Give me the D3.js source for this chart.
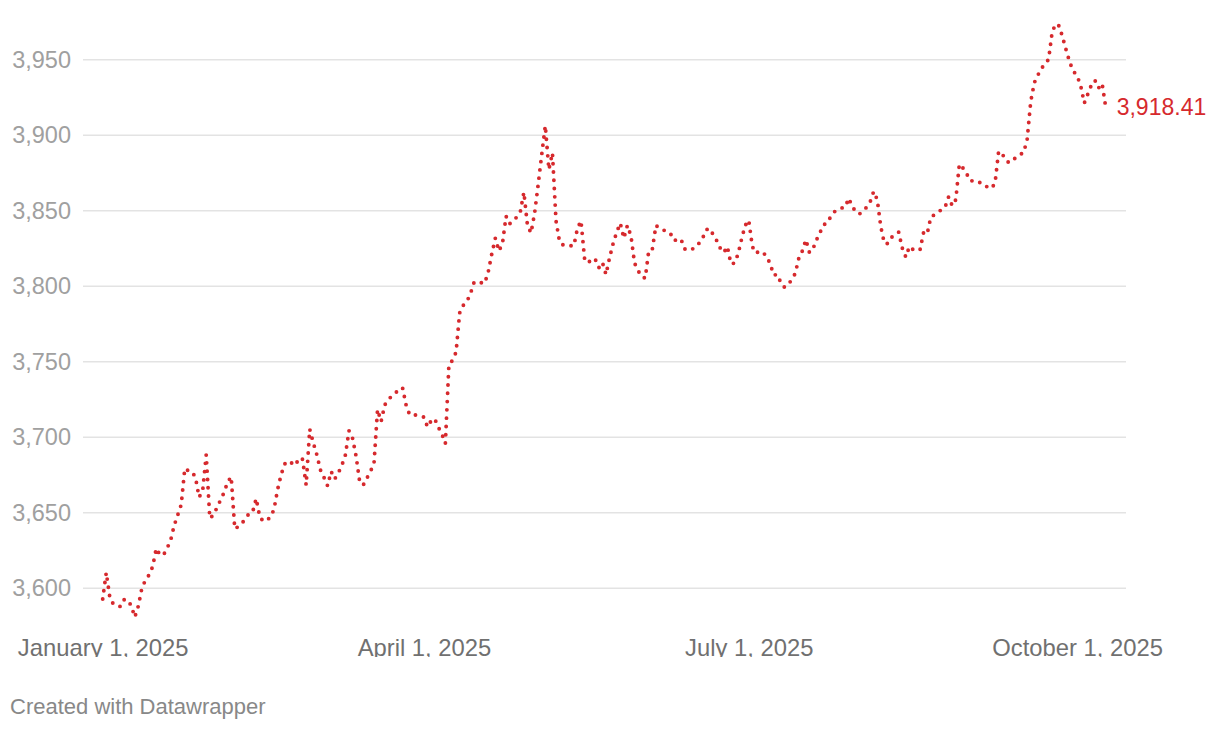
<!DOCTYPE html>
<html>
<head>
<meta charset="utf-8">
<script src="https://cdn.jsdelivr.net/npm/d3@7"></script>
<style>
  html, body { margin: 0; padding: 0; background: #fff; }
  svg { display: block; font-family: "Liberation Sans", Arial, Helvetica, sans-serif; }
</style>
</head>
<body>
<svg id="chart" width="1220" height="730"></svg>
<script>
// ---- Data ----
const dates = [
  // January
  "2025-01-01","2025-01-02","2025-01-03","2025-01-04","2025-01-06","2025-01-07","2025-01-08","2025-01-09","2025-01-10",
  "2025-01-11","2025-01-12","2025-01-13","2025-01-14","2025-01-15","2025-01-16","2025-01-17","2025-01-18","2025-01-19","2025-01-20",
  "2025-01-21","2025-01-22","2025-01-23","2025-01-24","2025-01-25","2025-01-26","2025-01-27","2025-01-28","2025-01-29","2025-01-30","2025-01-31",
  // February
  "2025-02-01","2025-02-02","2025-02-03","2025-02-04","2025-02-05","2025-02-06","2025-02-07","2025-02-08","2025-02-09","2025-02-10",
  "2025-02-11","2025-02-12","2025-02-13","2025-02-14","2025-02-15","2025-02-16","2025-02-17","2025-02-18","2025-02-19","2025-02-20",
  "2025-02-21","2025-02-22","2025-02-23","2025-02-24","2025-02-25","2025-02-26","2025-02-27","2025-02-28",
  // March
  "2025-03-01","2025-03-02","2025-03-03","2025-03-04","2025-03-05","2025-03-06","2025-03-07","2025-03-08","2025-03-09","2025-03-10",
  "2025-03-11","2025-03-12","2025-03-13","2025-03-14","2025-03-15","2025-03-16","2025-03-17","2025-03-18","2025-03-19","2025-03-20",
  "2025-03-21","2025-03-22","2025-03-23","2025-03-24","2025-03-25","2025-03-26","2025-03-27","2025-03-28","2025-03-29","2025-03-30","2025-03-31",
  // April
  "2025-04-01","2025-04-02","2025-04-03","2025-04-04","2025-04-05","2025-04-06","2025-04-07","2025-04-08","2025-04-09","2025-04-10",
  "2025-04-11","2025-04-12","2025-04-13","2025-04-14","2025-04-15","2025-04-16","2025-04-17","2025-04-18","2025-04-19","2025-04-20",
  "2025-04-21","2025-04-22","2025-04-23","2025-04-24","2025-04-25","2025-04-26","2025-04-27","2025-04-28","2025-04-29","2025-04-30",
  // May
  "2025-05-01","2025-05-02","2025-05-03","2025-05-04","2025-05-05","2025-05-06","2025-05-07","2025-05-08","2025-05-09","2025-05-10",
  "2025-05-11","2025-05-12","2025-05-13","2025-05-14","2025-05-15","2025-05-16","2025-05-17","2025-05-18","2025-05-19","2025-05-20",
  "2025-05-21","2025-05-22","2025-05-23","2025-05-24","2025-05-25","2025-05-26","2025-05-27","2025-05-28","2025-05-29","2025-05-30","2025-05-31",
  // June
  "2025-06-01","2025-06-02","2025-06-03","2025-06-04","2025-06-05","2025-06-06","2025-06-07","2025-06-08","2025-06-09","2025-06-10",
  "2025-06-11","2025-06-12","2025-06-13","2025-06-14","2025-06-15","2025-06-16","2025-06-17","2025-06-18","2025-06-19","2025-06-20",
  "2025-06-21","2025-06-22","2025-06-23","2025-06-24","2025-06-25","2025-06-26","2025-06-27","2025-06-28","2025-06-29","2025-06-30",
  // July
  "2025-07-01","2025-07-02","2025-07-03","2025-07-04","2025-07-05","2025-07-06","2025-07-07","2025-07-08","2025-07-09","2025-07-10",
  "2025-07-11","2025-07-12","2025-07-13","2025-07-14","2025-07-15","2025-07-16","2025-07-17","2025-07-18","2025-07-19","2025-07-20",
  "2025-07-21","2025-07-22","2025-07-23","2025-07-24","2025-07-25","2025-07-26","2025-07-27","2025-07-28","2025-07-29","2025-07-30","2025-07-31",
  // August
  "2025-08-01","2025-08-02","2025-08-03","2025-08-04","2025-08-05","2025-08-06","2025-08-07","2025-08-08","2025-08-09","2025-08-10",
  "2025-08-11","2025-08-12","2025-08-13","2025-08-14","2025-08-15","2025-08-16","2025-08-17","2025-08-18","2025-08-19","2025-08-20",
  "2025-08-21","2025-08-22","2025-08-23","2025-08-24","2025-08-25","2025-08-26","2025-08-27","2025-08-28","2025-08-29","2025-08-30","2025-08-31",
  // September
  "2025-09-01","2025-09-02","2025-09-03","2025-09-04","2025-09-05","2025-09-06","2025-09-07","2025-09-08","2025-09-09","2025-09-10",
  "2025-09-11","2025-09-12","2025-09-13","2025-09-14","2025-09-15","2025-09-16","2025-09-17","2025-09-18","2025-09-19","2025-09-20",
  "2025-09-21","2025-09-22","2025-09-23","2025-09-24","2025-09-25","2025-09-26","2025-09-27","2025-09-28","2025-09-29","2025-09-30",
  // October
  "2025-10-01","2025-10-02","2025-10-03","2025-10-04","2025-10-05","2025-10-06","2025-10-07","2025-10-08","2025-10-09"
];

const values = [
  // January
  3592.5,3610,3593.5,3589,3587.5,3592,3592,3588,3580.5,
  3588,3600,3605,3608.5,3614,3626,3622,3621.5,3626,3631,
  3641,3648,3655,3679,3677.5,3677,3673,3660,3664,3688,3646,
  // February
  3648,3653,3658,3663,3670,3673.5,3639,3640.5,3642.5,3646,
  3649,3650,3659,3647,3644,3645,3646.5,3652,3665,3675,
  3682,3684,3682.5,3681,3686,3685,3668,3705,
  // March
  3696,3688,3678,3673,3667.5,3677,3672,3676,3681,3688,
  3704,3699,3687,3670,3668,3672.5,3677,3682,3718,3710,
  3721,3724.5,3727,3729,3731,3732.5,3721,3714.5,3714.5,3714.3,3713.5,
  // April
  3713,3706.5,3710.5,3712,3706.5,3702,3695.5,3748,3750.5,3756,
  3782,3787,3789.5,3794.5,3802,3803,3802,3801.5,3809,3821,
  3831.5,3823,3828,3846,3841,3843,3845.5,3849,3862,3840,
  // May
  3835,3848,3867,3887,3906,3877,3888,3843,3829,3827,
  3826.5,3826.5,3826.5,3838,3843,3818,3815,3818,3817.5,3812,
  3815.5,3807.5,3818.5,3828,3835.5,3841.5,3831.5,3840,3833,3815,3810,
  // June
  3806,3805,3823.5,3824.5,3840,3838,3837,3836,3835,3830,
  3830.5,3831,3824.5,3823.5,3824,3825.5,3828,3831,3837,3838,
  3834,3830,3825,3822,3826,3814.5,3815,3821,3831,3840,
  // July
  3843.5,3826,3821.5,3823,3822,3819.5,3814.5,3807,3807.5,3802,
  3799,3800.5,3804,3808,3818,3823,3830.5,3822,3824.5,3830.5,
  3835.5,3840.5,3841.5,3846,3849,3850.5,3851.5,3852,3858,3852.5,3849,
  // August
  3847.5,3849.5,3852,3855.5,3862.5,3857,3839,3828,3828,3832,
  3834,3835.5,3825,3819,3826,3824,3823,3824,3835.5,3834.5,
  3845.5,3847,3848.5,3850.5,3852,3859,3853,3857,3880.5,3878,3874.5,
  // September
  3869.5,3869.5,3869.5,3868,3866,3865.5,3864.5,3868,3889,3887.5,
  3883,3881.5,3883,3885.5,3887,3888,3897,3922,3934.5,3939.5,
  3944,3947,3950,3968,3973.5,3972,3964,3955.5,3947.5,3942,
  // October
  3939,3932.5,3921,3927,3933,3936,3931,3934,3918.41
];

const yTicks = [3600, 3650, 3700, 3750, 3800, 3850, 3900, 3950];
const xTickDates = ["2025-01-01", "2025-04-01", "2025-07-01", "2025-10-01"];
const xTickLabels = ["January 1, 2025", "April 1, 2025", "July 1, 2025", "October 1, 2025"];
const endLabel = "3,918.41";
const footer = "Created with Datawrapper";

// ---- Drawing ----
const parse = d3.utcParse("%Y-%m-%d");
const data = dates.map((d, i) => ({ date: parse(d), value: values[i] }));

const svg = d3.select("#chart");

const x = d3.scaleUtc()
  .domain([parse(dates[0]), parse(dates[dates.length - 1])])
  .range([102.7, 1105.7]);

const y = d3.scaleLinear()
  .domain([3600, 3950])
  .range([587.7, 59.3]);

const gridLeft = 83, gridRight = 1126;

// clip for the x-axis labels (bottom of chart area is cut in the reference)
svg.append("defs").append("clipPath").attr("id", "chartClip")
  .append("rect").attr("x", 0).attr("y", 0).attr("width", 1220).attr("height", 657);

// Y axis with gridlines
const yAxis = d3.axisLeft(y)
  .tickValues(yTicks)
  .tickSize(-(gridRight - gridLeft))
  .tickPadding(12)
  .tickFormat(d3.format(","));

const gy = svg.append("g")
  .attr("transform", `translate(${gridLeft},0)`)
  .call(yAxis);
gy.select(".domain").remove();
gy.selectAll(".tick line")
  .attr("stroke", "#e3e3e3")
  .attr("stroke-width", 1.4);
gy.selectAll(".tick text")
  .attr("fill", "#a0a0a0")
  .attr("font-size", 23.5)
  .attr("font-family", "'Liberation Sans', Arial, Helvetica, sans-serif")
  .attr("dy", "0.34em");

// X axis labels
const xAxis = d3.axisBottom(x)
  .tickValues(xTickDates.map(parse))
  .tickSize(0)
  .tickFormat((d, i) => xTickLabels[i]);

const gx = svg.append("g")
  .attr("clip-path", "url(#chartClip)")
  .append("g")
  .call(xAxis);
gx.select(".domain").remove();
gx.selectAll(".tick text")
  .attr("fill", "#707070")
  .attr("font-size", 23.8)
  .attr("font-family", "'Liberation Sans', Arial, Helvetica, sans-serif")
  .attr("y", 655.5)
  .attr("dy", 0);

// Dotted line
const line = d3.line()
  .x(d => x(d.date))
  .y(d => y(d.value));

svg.append("path")
  .datum(data)
  .attr("d", line)
  .attr("fill", "none")
  .attr("stroke", "#d6292d")
  .attr("stroke-width", 3.9)
  .attr("stroke-linecap", "round")
  .attr("stroke-linejoin", "round")
  .attr("stroke-dasharray", "0 8.3");

// End value label
const last = data[data.length - 1];
svg.append("text")
  .attr("x", x(last.date) + 11)
  .attr("y", y(last.value))
  .attr("dy", "0.34em")
  .attr("fill", "#d6292d")
  .attr("font-size", 23)
  .text(endLabel);

// Footer
svg.append("text")
  .attr("x", 10)
  .attr("y", 713.5)
  .attr("fill", "#888888")
  .attr("font-size", 22)
  .text(footer);
</script>
</body>
</html>
